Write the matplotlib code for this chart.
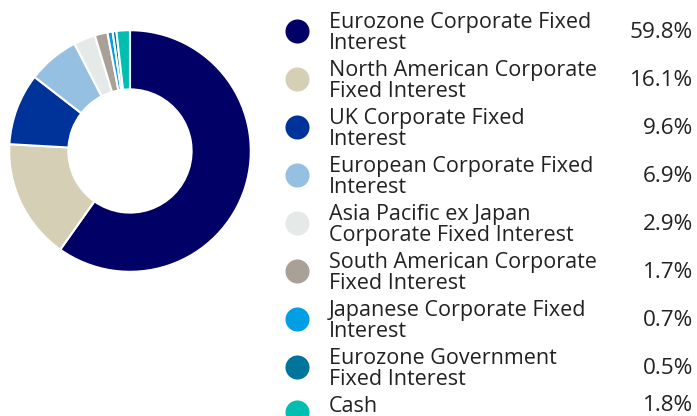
import matplotlib.pyplot as plt

labels = [
    "Eurozone Corporate Fixed\nInterest",
    "North American Corporate\nFixed Interest",
    "UK Corporate Fixed\nInterest",
    "European Corporate Fixed\nInterest",
    "Asia Pacific ex Japan\nCorporate Fixed Interest",
    "South American Corporate\nFixed Interest",
    "Japanese Corporate Fixed\nInterest",
    "Eurozone Government\nFixed Interest",
    "Cash",
]
weights = [59.8, 16.1, 9.6, 6.9, 2.9, 1.7, 0.7, 0.5, 1.8]
colors = ["#000066", "#d5cfb6", "#003399", "#96c0e2", "#e5e9e8",
          "#a9a198", "#009fe3", "#00749a", "#00bfb0"]

W, H = 697, 416
fig = plt.figure(figsize=(W / 100, H / 100), dpi=100)

# donut
cx, cy, r = 130, 151, 122
ax = fig.add_axes([(cx - r) / W, (H - cy - r) / H, 2 * r / W, 2 * r / H])
ax.pie(weights, colors=colors, startangle=90, counterclock=False,
       radius=1.0,
       wedgeprops=dict(width=0.49, edgecolor="white", linewidth=1.5))
ax.set_xlim(-1.01, 1.01)
ax.set_ylim(-1.01, 1.01)
ax.set_aspect("equal")
ax.axis("off")

# legend drawn in pixel coordinates
lax = fig.add_axes([0, 0, 1, 1])
lax.set_xlim(0, W)
lax.set_ylim(H, 0)
lax.axis("off")

font = dict(family="Open Sans", color="#222222")
for i, (lab, w, c) in enumerate(zip(labels, weights, colors)):
    if i < 8:
        y = 31 + 48 * i
        base, pct_base = y - 3, y + 7
    else:
        # last single-line row sits tight against the bottom edge
        y = 412
        base, pct_base = 412, 411
    lax.scatter([297], [y], s=300, color=c, linewidths=0)
    for j, line in enumerate(lab.split("\n")):
        lax.text(329, base + 21 * j, line, va="baseline", ha="left",
                 fontsize=15.5, **font)
    lax.text(693, pct_base, f"{w:.1f}%", va="baseline", ha="right",
             fontsize=16.2, **font)

fig.savefig("out.png", dpi=100)
